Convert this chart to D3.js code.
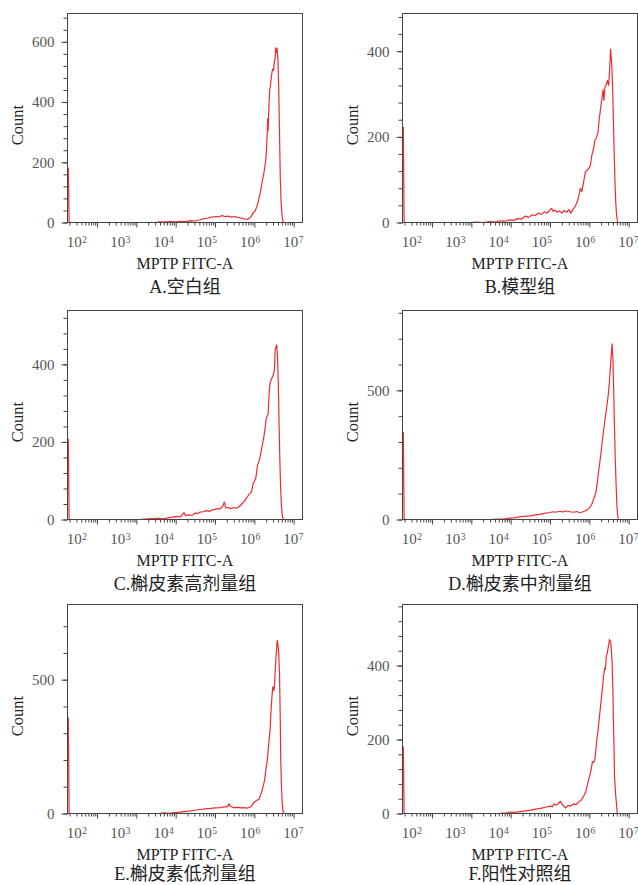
<!DOCTYPE html>
<html>
<head>
<meta charset="utf-8">
<script src="https://cdn.jsdelivr.net/npm/d3@7"></script>
<style>
  body { margin: 0; background: #fff; }
  svg { display: block; }
</style>
</head>
<body>
<div id="fig"></div>
<script>
// captions under each panel
var captions = ["A.空白组", "B.模型组", "C.槲皮素高剂量组", "D.槲皮素中剂量组", "E.槲皮素低剂量组", "F.阳性对照组"];
var xTitle = "MPTP FITC-A";
var yTitle = "Count";

// y axis settings per panel
var yMax = [694, 488, 539, 809, 781, 565];
var yMajor = [[0, 200, 400, 600], [0, 200, 400], [0, 200, 400], [0, 500], [0, 500], [0, 200, 400]];
var yMinorStep = [40, 40, 40, 100, 100, 40];

// x axis decades (10^k)
var decades = [2, 3, 4, 5, 6, 7];

// histograms: [log10 intensity, count]
var histA = [[1.27,182],[1.29,0],[3.50,0],[3.58,2],[3.70,1],[3.85,3],[4.00,2],[4.12,4],[4.25,3],[4.38,6],[4.50,5],[4.62,9],[4.72,13],[4.82,15],[4.92,18],[5.02,20],[5.10,19],[5.18,23],[5.26,20],[5.34,21],[5.42,18],[5.50,20],[5.58,17],[5.66,15],[5.74,12],[5.80,10],[5.86,13],[5.92,20],[5.97,32],[6.02,38],[6.07,55],[6.12,80],[6.16,105],[6.20,135],[6.25,170],[6.29,205],[6.31,245],[6.33,300],[6.34,345],[6.35,305],[6.37,380],[6.39,440],[6.41,455],[6.43,480],[6.45,500],[6.47,510],[6.49,505],[6.51,535],[6.53,545],[6.54,580],[6.56,565],[6.58,578],[6.60,540],[6.62,450],[6.64,300],[6.66,150],[6.68,70],[6.70,30],[6.72,8],[6.74,0],[7.225,0]];
var histB = [[1.27,223],[1.29,0],[3.00,0],[3.10,1],[3.30,0],[3.47,2],[3.60,1],[3.72,4],[3.85,3],[3.98,6],[4.08,5],[4.18,9],[4.28,8],[4.38,15],[4.46,12],[4.55,18],[4.62,16],[4.70,22],[4.78,19],[4.86,25],[4.93,22],[5.00,30],[5.04,33],[5.08,26],[5.13,29],[5.18,24],[5.24,27],[5.30,22],[5.36,28],[5.42,24],[5.48,30],[5.53,22],[5.58,30],[5.63,36],[5.68,45],[5.73,60],[5.77,80],[5.81,72],[5.85,92],[5.90,118],[5.94,122],[5.98,125],[6.03,135],[6.07,160],[6.10,168],[6.14,192],[6.18,198],[6.22,210],[6.25,240],[6.28,262],[6.32,290],[6.35,310],[6.37,285],[6.40,318],[6.43,322],[6.46,332],[6.49,320],[6.51,345],[6.54,405],[6.57,370],[6.59,320],[6.61,250],[6.63,170],[6.65,100],[6.67,50],[6.69,20],[6.72,0],[7.225,0]];
var histC = [[1.27,208],[1.29,0],[3.10,0],[3.20,1],[3.40,2],[3.55,3],[3.70,2],[3.80,4],[3.92,6],[4.04,8],[4.12,7],[4.21,18],[4.25,10],[4.33,12],[4.42,11],[4.50,17],[4.55,15],[4.62,19],[4.70,20],[4.78,23],[4.86,21],[4.93,25],[5.00,26],[5.06,28],[5.12,27],[5.19,33],[5.24,45],[5.27,30],[5.33,31],[5.40,28],[5.48,31],[5.55,29],[5.61,33],[5.66,38],[5.70,42],[5.74,46],[5.78,52],[5.82,58],[5.86,64],[5.90,68],[5.93,72],[5.97,93],[6.01,100],[6.04,108],[6.08,140],[6.11,148],[6.14,158],[6.18,180],[6.21,195],[6.24,212],[6.27,232],[6.30,258],[6.32,265],[6.35,272],[6.38,330],[6.40,352],[6.43,360],[6.46,368],[6.48,372],[6.51,385],[6.53,438],[6.55,445],[6.57,450],[6.59,420],[6.61,350],[6.63,240],[6.65,150],[6.67,80],[6.69,35],[6.71,10],[6.74,0],[7.225,0]];
var histD = [[1.27,339],[1.29,0],[3.50,0],[3.55,1],[3.70,2],[3.85,3],[3.98,5],[4.10,7],[4.23,10],[4.35,12],[4.49,14],[4.60,17],[4.74,20],[4.85,24],[5.00,27],[5.08,30],[5.15,28],[5.25,32],[5.32,29],[5.40,33],[5.51,30],[5.60,28],[5.68,31],[5.76,26],[5.84,30],[5.93,36],[6.00,45],[6.06,58],[6.10,75],[6.14,92],[6.17,108],[6.20,140],[6.23,180],[6.27,225],[6.31,275],[6.35,330],[6.40,390],[6.43,420],[6.45,445],[6.48,480],[6.51,530],[6.54,600],[6.56,640],[6.58,680],[6.60,620],[6.62,500],[6.64,350],[6.66,230],[6.68,140],[6.70,60],[6.72,15],[6.74,0],[7.225,0]];
var histE = [[1.27,360],[1.29,0],[3.60,0],[3.69,2],[3.85,1],[3.95,3],[4.04,3],[4.15,6],[4.26,8],[4.38,10],[4.50,13],[4.63,15],[4.75,17],[4.89,19],[5.00,21],[5.14,22],[5.22,25],[5.31,25],[5.36,36],[5.40,26],[5.48,22],[5.58,23],[5.66,21],[5.74,22],[5.82,20],[5.91,25],[5.97,38],[6.01,44],[6.07,50],[6.12,53],[6.16,70],[6.20,87],[6.23,105],[6.26,124],[6.29,160],[6.33,200],[6.36,250],[6.40,311],[6.43,398],[6.45,440],[6.47,473],[6.50,460],[6.52,500],[6.55,584],[6.57,620],[6.58,647],[6.60,634],[6.62,600],[6.64,522],[6.66,350],[6.67,211],[6.69,100],[6.71,37],[6.73,8],[6.75,0],[7.225,0]];
var histF = [[1.27,181],[1.29,0],[3.70,0],[3.79,1],[3.90,2],[3.99,4],[4.10,3],[4.25,5],[4.38,7],[4.51,9],[4.63,12],[4.76,14],[4.88,17],[5.01,20],[5.06,18],[5.10,26],[5.15,22],[5.21,27],[5.27,33],[5.31,24],[5.36,19],[5.40,15],[5.46,22],[5.52,20],[5.61,26],[5.67,24],[5.73,32],[5.78,35],[5.83,42],[5.87,50],[5.90,56],[5.94,72],[5.99,95],[6.03,110],[6.08,140],[6.11,138],[6.14,145],[6.17,175],[6.19,200],[6.22,222],[6.24,245],[6.28,285],[6.31,316],[6.34,345],[6.36,370],[6.39,393],[6.41,390],[6.43,425],[6.45,430],[6.47,443],[6.49,455],[6.51,470],[6.54,465],[6.56,440],[6.58,407],[6.60,330],[6.61,263],[6.63,170],[6.64,100],[6.67,50],[6.69,27],[6.71,0],[7.225,0]];
var hists = [histA, histB, histC, histD, histE, histF];

// layout
var width = 235, height = 209;
var colLeft = [67.5, 402.5];
var rowTop = [13.5, 310.5, 604.5];
var captionDy = [70, 70, 66.5]; // last row sits against the page bottom
var serif = "'Liberation Serif', 'Times New Roman', serif";

var svg = d3.select("#fig")
  .append("svg")
  .attr("width", 638)
  .attr("height", 885)
  .style("background", "#fff");

// x scale for ticks / data, and one for the decade labels (they sit a little apart in the figure)
var xLo = Math.pow(10, 1.249), xHi = Math.pow(10, 7.225);
var labLo = Math.pow(10, 1.792);

var minorX = [];
for (var k = 1; k <= 6; k++) {
  for (var m = 2; m <= 9; m++) {
    var v = m * Math.pow(10, k);
    if (v > xLo && v < xHi) minorX.push(v);
  }
}
var majorX = decades.map(function (e) { return Math.pow(10, e); });

hists.forEach(function (data, i) {
  var col = i % 2, row = Math.floor(i / 2);
  var g = svg.append("g")
    .attr("transform", "translate(" + colLeft[col] + "," + rowTop[row] + ")");

  var x = d3.scaleLog().domain([xLo, xHi]).range([0, width]);
  var xLab = d3.scaleLog().domain([labLo, xHi]).range([0, width]);
  var y = d3.scaleLinear().domain([0, yMax[i]]).range([height, 0]);

  // histogram line
  var line = d3.line()
    .x(function (d) { return x(Math.pow(10, d[0])); })
    .y(function (d) { return y(d[1]); });

  g.append("path")
    .datum(data)
    .attr("fill", "none")
    .attr("stroke", "#ee2c30")
    .attr("stroke-width", 1.2)
    .attr("stroke-linejoin", "round")
    .attr("d", line);

  // x ticks
  g.append("g")
    .attr("transform", "translate(0," + height + ")")
    .call(d3.axisBottom(x).tickValues(minorX).tickSize(3).tickFormat(""))
    .call(function (a) { a.select(".domain").remove(); });
  g.append("g")
    .attr("transform", "translate(0," + height + ")")
    .call(d3.axisBottom(x).tickValues(majorX).tickSize(5).tickFormat(""))
    .call(function (a) { a.select(".domain").remove(); });

  // x decade labels
  var xl = g.append("g")
    .attr("transform", "translate(0," + height + ")")
    .call(d3.axisBottom(xLab).tickValues(majorX).tickSize(0).tickPadding(14))
    .call(function (a) { a.select(".domain").remove(); a.selectAll("line").remove(); });
  xl.selectAll("text").each(function (d) {
    var t = d3.select(this);
    t.text(null);
    t.append("tspan").text("10");
    t.append("tspan")
      .attr("dy", "-0.42em")
      .attr("dx", "0.5")
      .attr("font-size", "9.5px")
      .text(Math.round(Math.log10(d)));
  });

  // y ticks
  g.append("g")
    .call(d3.axisLeft(y).tickValues(d3.range(0, yMax[i], yMinorStep[i])).tickSize(4).tickFormat(""))
    .call(function (a) { a.select(".domain").remove(); });
  g.append("g")
    .call(d3.axisLeft(y).tickValues(yMajor[i]).tickSize(6).tickPadding(7))
    .call(function (a) { a.select(".domain").remove(); });

  g.selectAll(".tick line").attr("stroke", "#444");
  g.selectAll(".tick text")
    .attr("font-family", serif)
    .attr("font-size", "15px")
    .attr("fill", "#555");

  // frame
  g.append("rect")
    .attr("width", width)
    .attr("height", height)
    .attr("fill", "none")
    .attr("stroke", "#444")
    .attr("stroke-width", 1);

  // titles
  g.append("text")
    .attr("transform", "translate(-50," + (height / 2 + 7) + ") rotate(-90)")
    .attr("text-anchor", "middle")
    .attr("dominant-baseline", "central")
    .attr("font-family", serif)
    .attr("font-size", "16.5px")
    .attr("fill", "#222")
    .text(yTitle);

  g.append("text")
    .attr("x", width / 2)
    .attr("y", height + 46.5)
    .attr("text-anchor", "middle")
    .attr("font-family", serif)
    .attr("font-size", "16px")
    .attr("fill", "#222")
    .text(xTitle);

  g.append("text")
    .attr("x", width / 2)
    .attr("y", height + captionDy[row])
    .attr("text-anchor", "middle")
    .attr("font-family", serif + ", 'Noto Sans CJK SC'")
    .attr("font-size", "18px")
    .attr("fill", "#222")
    .text(captions[i]);
});
</script>
</body>
</html>
